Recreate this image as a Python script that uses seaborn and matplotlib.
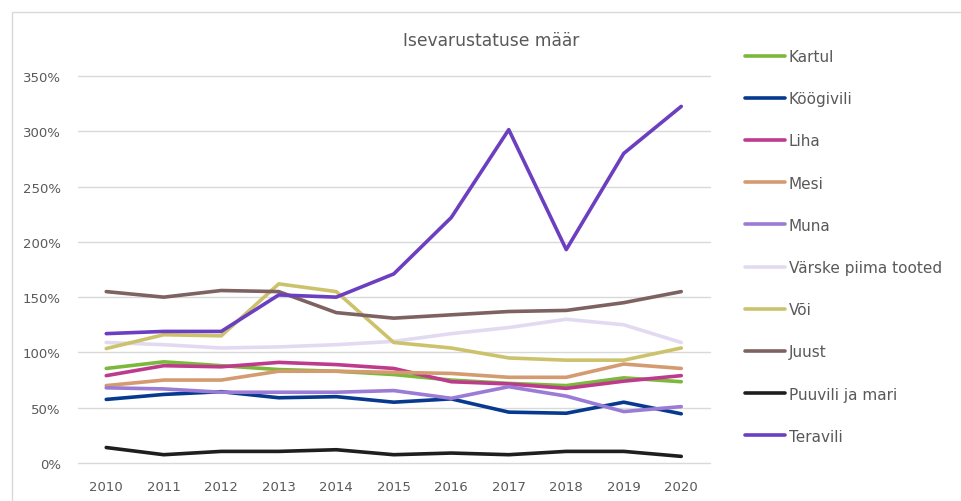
import matplotlib
matplotlib.use("Agg")
import matplotlib.pyplot as plt
import seaborn as sns
import pandas as pd
from matplotlib.patches import Rectangle
from matplotlib.ticker import FuncFormatter

years = [2010, 2011, 2012, 2013, 2014, 2015, 2016, 2017, 2018, 2019, 2020]

kartul = [85.5, 91.5, 88, 84.5, 83, 80, 75, 72, 70, 77, 73.5]
koogivili = [57.5, 62, 64.5, 59, 60, 55, 58, 46, 45, 55, 44.5]
liha = [79, 88, 87, 91, 89, 85.5, 73.5, 71.5, 67.5, 74, 79]
mesi = [70, 75, 75, 83, 83, 82, 81, 77.5, 77.5, 89.5, 85.5]
muna = [68, 67, 64, 64, 64, 65.5, 58.5, 69, 60.5, 46.5, 51]
varske = [109, 107, 104, 105, 107, 110, 117, 122.5, 130, 125, 109]
voi = [103.5, 116, 115, 162, 155, 109, 104, 95, 93, 93, 104]
juust = [155, 150, 156, 155, 136, 131, 134, 137, 138, 145, 155]
puuvili = [14, 7.5, 10.5, 10.5, 12, 7.5, 9, 7.5, 10.5, 10.5, 6]
teravili = [117, 119, 119, 152, 150, 171, 222, 301.5, 193, 280, 322.5]

series_names = ["Kartul", "Köögivili", "Liha", "Mesi", "Muna",
                "Värske piima tooted", "Või", "Juust", "Puuvili ja mari", "Teravili"]
series_values = [kartul, koogivili, liha, mesi, muna, varske, voi, juust, puuvili, teravili]
colors = ["#7CB83B", "#073A8E", "#BE3A8C", "#D49B70", "#9A7BD6",
          "#E2DAF0", "#CDC26C", "#7E6262", "#1E1E1E", "#6B3FC0"]

y_ticks = [0, 50, 100, 150, 200, 250, 300, 350]
title = "Isevarustatuse määr"

rows = []
for name, vals in zip(series_names, series_values):
    for y, v in zip(years, vals):
        rows.append({"Aasta": y, "Väärtus": v, "Toode": name})
df = pd.DataFrame(rows)

sns.set_theme(style="white")
plt.rcParams["font.family"] = ["DejaVu Sans"]

fig = plt.figure(figsize=(9.61, 5.02), dpi=100)
W, H = 961, 502
ax = fig.add_axes([77.5 / W, 1 - 464 / H, (710 - 77.5) / W, (464 - 77) / H])

# outer chart border
fig.patches.append(Rectangle((12 / W, -0.1), 1.2, 1 - 13 / H + 0.1,
                             transform=fig.transFigure, fill=False,
                             edgecolor="#D9D9D9", linewidth=1.0, zorder=0))

sns.lineplot(data=df, x="Aasta", y="Väärtus", hue="Toode",
             hue_order=series_names, palette=colors, linewidth=2.6,
             ax=ax, legend=True, sort=False)

ax.set_xlim(2009.5, 2020.5)
ax.set_ylim(0, 350)
ax.set_xticks(years)
ax.set_xticklabels([str(y) for y in years])
ax.set_yticks(y_ticks)
ax.yaxis.set_major_formatter(FuncFormatter(lambda v, p: f"{int(v)}%"))
ax.grid(axis="y", color="#D9D9D9", linewidth=1.0)
ax.grid(axis="x", visible=False)
for gl in ax.get_ygridlines():
    gl.set_clip_on(False)
ax.set_axisbelow(True)
for s in ax.spines.values():
    s.set_visible(False)
ax.set_xlabel("")
ax.set_ylabel("")
ax.tick_params(axis="both", length=0, labelsize=9.5, colors="#595959")
ax.tick_params(axis="y", pad=12)
ax.tick_params(axis="x", pad=12)

fig.text(491 / W, 1 - 41 / H, title, ha="center", va="center",
         fontsize=12.3, color="#595959")

handles, labels = ax.get_legend_handles_labels()
ax.legend(handles, labels, loc="upper left",
          bbox_to_anchor=(745 / W, 1 - 50 / H), bbox_transform=fig.transFigure,
          frameon=False, fontsize=11, labelcolor="#595959",
          handlelength=2.6, handletextpad=0.25, labelspacing=1.78,
          borderaxespad=0, borderpad=0)

fig.savefig("out.png", dpi=100, facecolor="white")
